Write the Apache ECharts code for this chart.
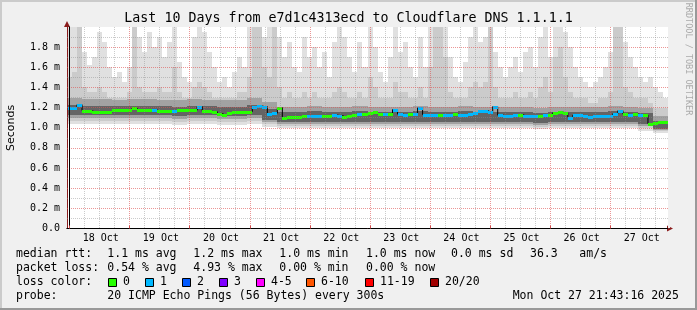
<!DOCTYPE html>
<html><head><meta charset="utf-8">
<script src="https://cdn.jsdelivr.net/npm/echarts@6/dist/echarts.min.js"></script>
<style>html,body{margin:0;padding:0;background:#f0f0f0}#c{width:697px;height:310px}</style>
</head><body><div id="c"></div>
<script>
// ---------- DATA ----------
// time axis in hours relative to 18 Oct 00:00
const startHour = -1, endHour = 239;
const dayLabels = ['18 Oct','19 Oct','20 Oct','21 Oct','22 Oct','23 Oct','24 Oct','25 Oct','26 Oct','27 Oct'];
const yTickUnit = ' m';

// median rtt (ms), 2-hour bins
const median = [1.20,1.20,1.23,1.17,1.167,1.16,1.157,1.157,1.157,1.175,
 1.18,1.18,1.18,1.20,1.177,1.177,1.175,1.175,1.167,1.167,
 1.165,1.165,1.175,1.175,1.175,1.175,1.21,1.163,1.163,1.16,
 1.14,1.13,1.145,1.155,1.16,1.16,1.16,1.21,1.215,1.21,
 1.14,1.145,1.20,1.10,1.105,1.11,1.11,1.115,1.12,1.115,
 1.12,1.115,1.12,1.125,1.12,1.11,1.12,1.13,1.135,1.14,
 1.15,1.16,1.14,1.135,1.14,1.18,1.135,1.13,1.135,1.14,
 1.20,1.13,1.125,1.13,1.13,1.125,1.13,1.135,1.13,1.125,
 1.135,1.15,1.165,1.17,1.16,1.21,1.125,1.12,1.12,1.125,
 1.13,1.12,1.115,1.12,1.12,1.125,1.13,1.15,1.155,1.15,
 1.10,1.125,1.125,1.113,1.11,1.113,1.115,1.12,1.12,1.14,
 1.17,1.135,1.13,1.135,1.13,1.125,1.04,1.05,1.06,1.055];
// packet loss count per bin (0 or 1 of 20)
const loss = [1,1,1,0,0,0,0,0,0,0,
 0,0,0,0,0,0,0,1,0,0,
 0,1,0,0,0,0,1,0,0,0,
 0,0,0,0,0,0,0,1,1,1,
 1,1,0,0,0,0,0,0,1,1,
 1,0,0,1,1,0,0,0,1,0,
 0,0,0,1,0,1,1,1,0,1,
 1,1,1,1,0,1,1,0,1,1,
 1,1,1,1,1,1,1,1,1,1,
 0,1,1,1,0,1,0,0,0,0,
 1,1,1,1,1,1,1,1,1,1,
 1,0,1,0,1,0,0,0,0,0];
// smoke: highest ping per 2-hour bin
const smokeTop = [2.0,2.0,2.0,1.75,1.62,1.7,1.95,1.85,1.6,1.5,
 1.55,1.45,1.6,2.0,1.9,1.75,1.95,1.8,1.9,1.7,
 1.85,2.0,1.65,1.5,1.45,1.9,2.0,1.95,1.75,1.6,
 1.45,1.5,1.4,1.55,1.7,1.6,2.0,2.0,2.0,1.9,
 2.0,2.0,1.9,1.7,1.85,1.6,1.55,1.9,1.7,1.8,
 1.6,1.75,1.5,1.85,2.0,1.9,1.7,1.55,1.85,1.6,
 2.0,1.8,1.55,1.45,1.7,2.0,1.75,1.85,1.6,1.5,
 1.9,1.6,2.0,2.0,2.0,2.0,1.7,1.5,1.45,1.65,
 1.9,2.0,1.85,1.9,2.0,1.75,1.6,1.5,1.6,1.7,
 1.55,1.75,1.8,1.6,1.9,2.0,1.7,2.0,2.0,1.95,
 1.8,1.6,1.5,1.45,1.4,1.45,1.5,1.6,1.75,2.0,
 2.0,1.85,1.7,1.6,1.5,1.45,1.5,1.4,1.35,1.3];
// smoke: upper edge of second band, 2-hour bins
const smokeHi2 = [1.5,1.55,2.0,1.4,1.35,1.35,1.4,1.35,1.3,1.3,
 1.3,1.3,1.35,2.0,1.4,1.35,1.35,1.35,1.4,1.35,
 1.35,1.6,1.35,1.3,1.3,1.4,1.45,1.4,1.35,1.3,
 1.3,1.3,1.3,1.3,1.35,1.35,1.5,2.0,2.0,1.6,
 1.5,2.0,1.4,1.3,1.35,1.3,1.3,1.35,1.3,1.35,
 1.3,1.3,1.3,1.35,1.4,1.35,1.3,1.3,1.35,1.3,
 1.5,1.4,1.3,1.3,1.3,1.45,1.35,1.35,1.3,1.3,
 1.4,1.3,1.6,2.0,2.0,1.7,1.35,1.3,1.3,1.3,
 1.4,1.45,1.4,1.45,2.0,1.4,1.3,1.3,1.3,1.35,
 1.3,1.3,1.35,1.3,1.4,1.5,1.35,1.7,1.8,1.5,
 1.35,1.3,1.3,1.3,1.25,1.25,1.3,1.3,1.35,2.0,
 2.0,1.4,1.35,1.3,1.3,1.3,1.25,1.2,1.2,1.2];
// smoke inner bands, 6-hour bins
const smokeHi3 = [1.30,1.29,1.29,1.28,1.29,1.29,1.28,1.28,1.29,1.28,1.28,1.28,1.30,1.26,
 1.21,1.21,1.22,1.21,1.21,1.22,1.21,1.21,1.21,1.22,1.21,1.21,1.22,1.21,1.21,1.21,1.21,1.20,1.21,1.21,1.21,1.21,1.22,1.21,1.20,1.12];
const smokeHi4 = [1.23,1.22,1.22,1.22,1.22,1.22,1.22,1.21,1.22,1.22,1.21,1.21,1.23,1.19,
 1.16,1.16,1.17,1.16,1.16,1.17,1.16,1.16,1.16,1.17,1.16,1.16,1.17,1.16,1.16,1.16,1.16,1.15,1.16,1.16,1.16,1.16,1.17,1.16,1.15,1.07];
const smokeLo4 = [1.13,1.13,1.13,1.13,1.13,1.13,1.13,1.12,1.13,1.13,1.12,1.12,1.13,1.08,
 1.06,1.06,1.06,1.06,1.06,1.06,1.06,1.06,1.06,1.06,1.06,1.06,1.06,1.06,1.06,1.06,1.06,1.05,1.06,1.06,1.06,1.06,1.06,1.06,1.04,0.99];
const smokeLo3 = [1.10,1.10,1.10,1.10,1.10,1.10,1.10,1.09,1.10,1.10,1.09,1.09,1.10,1.06,
 1.04,1.04,1.04,1.04,1.04,1.04,1.04,1.04,1.04,1.04,1.04,1.04,1.04,1.04,1.04,1.04,1.04,1.03,1.04,1.04,1.04,1.04,1.04,1.04,1.02,0.98];
const smokeLo2 = [1.07,1.07,1.07,1.07,1.07,1.07,1.07,1.06,1.07,1.07,1.06,1.06,1.07,1.04,
 1.02,1.02,1.02,1.02,1.02,1.02,1.02,1.02,1.02,1.02,1.02,1.02,1.02,1.02,1.02,1.02,1.02,1.01,1.02,1.02,1.02,1.02,1.02,1.02,1.00,0.97];
const smokeLo1 = [1.04,1.04,1.04,1.04,1.04,1.04,1.04,1.03,1.04,1.04,1.03,1.03,1.04,1.01,
 0.995,0.995,1.00,0.995,0.995,0.995,0.995,0.995,0.995,1.00,0.995,0.995,0.995,0.995,0.995,0.995,0.995,0.99,0.995,0.995,0.995,0.995,0.995,0.995,0.97,0.95];

// legend texts
const titleText = 'Last 10 Days from e7d1c4313ecd to Cloudflare DNS 1.1.1.1';
const rttStats = ['1.1 ms avg','1.2 ms max','1.0 ms min','1.0 ms now','0.0 ms sd','36.3','am/s'];
const lossStats = ['0.54 % avg','4.93 % max','0.00 % min','0.00 % now'];
const lossLabels = ['0','1','2','3','4-5','6-10','11-19','20/20'];
const lossColors = ['#26ff00','#00b8ff','#0059ff','#7e00ff','#ff00ff','#ff5500','#ff0000','#a10000'];
const probeText = '20 ICMP Echo Pings (56 Bytes) every 300s';
const dateText = 'Mon Oct 27 21:43:16 2025';

// ---------- BUILD ----------
const MONO = '"DejaVu Sans Mono"';
const hourCats = Array.from({length: endHour - startHour}, (_, i) => String(startHour + i));
function bandItems(his, los) {
  const n = his.length, m = los.length, w = (endHour - startHour) / n;
  return his.map((h, i) => { const s = startHour + i * w; return [s, s + w, los[Math.floor(i * m / n)], h]; });
}
function rectRender(color) {
  return function (params, api) {
    const a = api.coord([api.value(0), api.value(3)]);
    const b = api.coord([api.value(1), api.value(2)]);
    const x0 = Math.round(a[0]), x1 = Math.round(b[0]), y0 = Math.round(a[1]), y1 = Math.round(b[1]);
    return {type: 'rect', shape: {x: x0, y: y0, width: x1 - x0, height: y1 - y0}, style: {fill: color}};
  };
}
function smokeSeries(items, color) {
  return {type: 'custom', xAxisIndex: 0, yAxisIndex: 0, silent: true, z: 2, clip: true,
    renderItem: rectRender(color), encode: {x: [0, 1], y: [2, 3]}, data: items};
}
const binW = (endHour - startHour) / median.length;
const medianItems = median.map((v, i) => [startHour + i * binW, startHour + (i + 1) * binW, v, loss[i]]);
const medianLine = median.map((v, i) => [startHour + (i + 0.5) * binW, v]);

const legendFont = '11.5px ' + MONO;
const graphics = [];
function txt(x, y, s, extra) {
  graphics.push(Object.assign({type: 'text', x: x, y: y, silent: true,
    style: Object.assign({text: s, font: legendFont, fill: '#000', align: 'left', verticalAlign: 'middle'}, extra || {})}));
}
// frame
graphics.push({type: 'rect', shape: {x: 0, y: 0, width: 697, height: 2}, style: {fill: '#cbcbcb'}, silent: true});
graphics.push({type: 'rect', shape: {x: 0, y: 0, width: 2, height: 310}, style: {fill: '#cbcbcb'}, silent: true});
graphics.push({type: 'rect', shape: {x: 0, y: 308, width: 697, height: 2}, style: {fill: '#999999'}, silent: true});
graphics.push({type: 'rect', shape: {x: 695, y: 0, width: 2, height: 310}, style: {fill: '#999999'}, silent: true});
// hide the closing grid line / tick that the category axes add at the right edge of the canvas
graphics.push({type: 'rect', shape: {x: 668, y: 26, width: 2, height: 202}, style: {fill: '#f0f0f0'}, silent: true, z: 100});
// title
txt(348.5, 18.5, titleText, {font: '13.3px ' + MONO, align: 'center'});
// y name
graphics.push({type: 'text', x: 11, y: 128, rotation: Math.PI / 2, silent: true,
  style: {text: 'Seconds', font: '11px "DejaVu Sans"', fill: '#000', align: 'center', verticalAlign: 'middle'}});
// watermark
graphics.push({type: 'text', x: 688, y: 59, rotation: -Math.PI / 2, silent: true,
  style: {text: 'RRDTOOL / TOBI OETIKER', font: '8.5px ' + MONO, fill: '#aaaaaa', align: 'center', verticalAlign: 'middle'}});
// legend rows
const rowY = [254.3, 268.3, 282.3, 295.7];
const colX = [107.3, 193.3, 279.3, 366, 451, 530, 579.3];
txt(16, rowY[0], 'median rtt:');
rttStats.forEach((s, i) => txt(colX[i], rowY[0], s));
txt(16, rowY[1], 'packet loss:');
lossStats.forEach((s, i) => txt(colX[i], rowY[1], s));
txt(16, rowY[2], 'loss color:');
const boxX = [108.5, 145.5, 182.5, 219.5, 256.5, 306.5, 365.5, 430.5];
lossLabels.forEach((s, i) => {
  graphics.push({type: 'rect', silent: true, shape: {x: boxX[i], y: 278.5, width: 8, height: 8},
    style: {fill: lossColors[i], stroke: '#000', lineWidth: 1}});
  txt(boxX[i] + 14.5, rowY[2], s);
});
txt(16, rowY[3], 'probe:');
txt(107.3, rowY[3], probeText);
txt(512.7, rowY[3], dateText);

const midnight = (i) => (i - 1) % 24 === 0;
const option = {
  animation: false,
  backgroundColor: '#f0f0f0',
  grid: {left: 67, right: 29, top: 27, bottom: 81.5, show: true, backgroundColor: '#ffffff', borderWidth: 0, containLabel: false},
  xAxis: [
    {type: 'value', min: startHour, max: endHour, show: false},
    {type: 'category', data: hourCats, position: 'bottom', z: 10,
      axisLine: {show: true, lineStyle: {color: '#000', width: 1}},
      axisTick: {show: true, inside: true, length: 3, interval: midnight, lineStyle: {color: '#d04848', width: 1}},
      axisLabel: {interval: (i) => (i - 13) % 24 === 0, formatter: (v, i) => dayLabels[(i - 13) / 24],
        color: '#000', fontFamily: 'DejaVu Sans Mono', fontSize: 10, margin: 5},
      splitLine: {show: true, interval: midnight,
        lineStyle: {color: 'rgba(222,80,80,0.6)', width: 1, type: [1, 1]}}},
    {type: 'category', data: hourCats, position: 'bottom', z: 9,
      axisLine: {show: true, symbol: ['none', 'triangle'], symbolSize: [6, 6], symbolOffset: [0, 2],
        lineStyle: {color: '#8b1c1c', width: 1}},
      axisTick: {show: false}, axisLabel: {show: false},
      splitLine: {show: true, interval: (i) => (i - 1) % 6 === 0 && (i - 1) % 24 !== 0,
        lineStyle: {color: 'rgba(140,140,140,0.45)', width: 1, type: [1, 1]}}}
  ],
  yAxis: [
    {type: 'value', min: 0, max: 2, interval: 0.2, z: 10,
      axisLine: {show: true, lineStyle: {color: '#000', width: 1}},
      axisTick: {show: false},
      axisLabel: {showMaxLabel: false, margin: 7, color: '#000', fontFamily: 'DejaVu Sans Mono', fontSize: 10,
        formatter: (v) => v === 0 ? '0.0' : v.toFixed(1) + yTickUnit},
      splitLine: {show: true, showMinLine: false, showMaxLine: false,
        lineStyle: {color: 'rgba(222,80,80,0.6)', width: 1, type: [1, 1]}},
      minorTick: {show: false, splitNumber: 2},
      minorSplitLine: {show: true, lineStyle: {color: 'rgba(140,140,140,0.45)', width: 1, type: [1, 1]}}},
    {type: 'value', min: 0, max: 2, interval: 0.2, position: 'left', z: 9,
      axisLine: {show: true, symbol: ['none', 'triangle'], symbolSize: [6, 6], symbolOffset: [0, 3],
        lineStyle: {color: '#8b1c1c', width: 1}},
      axisTick: {show: false}, axisLabel: {show: false}, splitLine: {show: false}}
  ],
  series: [
    smokeSeries(bandItems(smokeTop, smokeLo1), '#e0e0e0'),
    smokeSeries(bandItems(smokeHi2, smokeLo2), '#cbcbcb'),
    smokeSeries(bandItems(smokeHi3, smokeLo3), '#a2a2a2'),
    smokeSeries(bandItems(smokeHi4, smokeLo4), '#646464'),
    {type: 'line', xAxisIndex: 0, yAxisIndex: 0, data: medianLine, step: 'middle', symbol: 'none', silent: true, z: 3,
      lineStyle: {color: '#000', width: 1}},
    {type: 'custom', xAxisIndex: 0, yAxisIndex: 0, silent: true, z: 4, encode: {x: [0, 1], y: 2},
      data: medianItems,
      renderItem: function (params, api) {
        const a = api.coord([api.value(0), api.value(2)]);
        const b = api.coord([api.value(1), api.value(2)]);
        const x0 = Math.round(a[0]), x1 = Math.round(b[0]), y = Math.round(a[1]);
        return {type: 'rect', shape: {x: x0, y: y - 1, width: x1 - x0, height: 3},
          style: {fill: lossColors[api.value(3)]}};
      }}
  ],
  graphic: graphics
};
const chart = echarts.init(document.getElementById('c'), null, {renderer: 'canvas', width: 697, height: 310});
chart.setOption(option);
</script></body></html>
